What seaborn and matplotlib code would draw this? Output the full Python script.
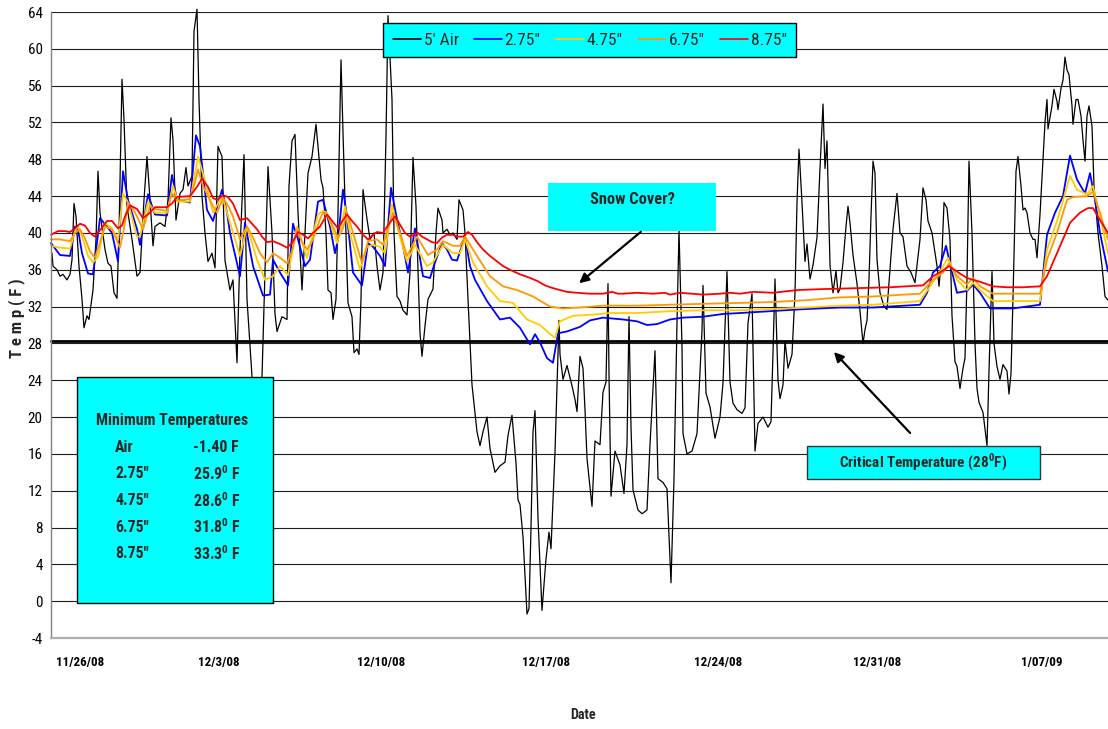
import matplotlib
matplotlib.use("Agg")
import matplotlib.pyplot as plt
from matplotlib import font_manager
from matplotlib.patches import Rectangle, FancyArrowPatch
from matplotlib.lines import Line2D
import seaborn as sns

# ---- hourly record index (hours since logger start) and temperatures (F) ----
AIR_HOUR = [1, 2, 6, 9, 12, 16, 19, 21, 23, 25, 28, 31, 33, 36, 38, 42, 45, 47, 49, 54,
            57, 60, 63, 66, 68, 71, 73, 76, 81, 86, 89, 93, 96, 99, 102, 104, 109, 114, 117, 120,
            122, 125, 129, 132, 135, 137, 141, 143, 146, 148, 151, 154, 157, 161, 164, 167, 171, 174, 179, 182,
            186, 189, 193, 196, 201, 205, 211, 217, 221, 224, 226, 231, 236, 238, 241, 244, 247, 251, 254, 257,
            261, 265, 267, 270, 272, 275, 277, 280, 282, 285, 287, 290, 292, 295, 297, 301, 303, 306, 308, 310,
            312, 316, 319, 323, 326, 329, 332, 335, 337, 341, 343, 346, 349, 352, 356, 359, 362, 365, 369, 371,
            374, 377, 382, 385, 387, 391, 392, 396, 399, 402, 406, 408, 412, 414, 417, 421, 426, 429, 432, 436,
            439, 444, 449, 454, 457, 461, 465, 467, 469, 472, 476, 478, 480, 482, 484, 487, 491, 495, 498, 500,
            504, 508, 509, 512, 516, 521, 524, 526, 529, 532, 534, 536, 541, 544, 549, 552, 555, 557, 558, 560,
            564, 569, 573, 576, 578, 580, 582, 587, 591, 596, 599, 604, 607, 612, 616, 620, 623, 626, 628, 631,
            632, 636, 641, 646, 651, 652, 655, 659, 664, 669, 672, 676, 679, 682, 686, 691, 694, 697, 701, 704,
            707, 712, 717, 720, 722, 724, 727, 729, 732, 734, 737, 741, 744, 746, 748, 751, 754, 756, 759, 762,
            766, 769, 772, 774, 776, 779, 782, 785, 787, 789, 792, 795, 797, 799, 802, 806, 809, 812, 814, 816,
            818, 820, 822, 824, 826, 829, 833, 836, 838, 842, 846, 849, 852, 856, 860, 864, 869, 872, 875, 877,
            881, 884, 886, 888, 891, 893, 896, 899, 901, 904, 906, 909, 912, 914, 916, 918, 921, 924, 926, 928,
            932, 934, 936, 938, 941, 943, 946, 949, 952, 956, 958, 960, 962, 965, 967, 970, 972, 974, 976, 979,
            982, 984, 986, 989, 992, 994, 996, 997, 1001, 1003, 1006, 1007, 1010, 1012, 1014, 1016, 1018, 1021, 1022, 1025,
            1027, 1030, 1032, 1034, 1036, 1038, 1041, 1043, 1047, 1051, 1054, 1057]
AIR_TEMP = [37.8, 36.4, 36.0, 35.3, 35.5, 34.9, 35.5, 37.1, 43.2, 41.8, 36.4, 32.8, 29.7, 31.0, 30.6, 33.8, 39.3, 46.7, 42.2, 38.2,
            36.7, 36.4, 33.5, 32.9, 40.0, 56.7, 52.3, 42.9, 39.3, 35.3, 35.7, 43.6, 48.3, 43.6, 38.6, 40.7, 41.1, 40.7, 43.6, 52.5,
            50.1, 41.4, 44.3, 44.7, 47.1, 45.1, 46.2, 61.9, 64.3, 54.5, 44.0, 40.0, 36.9, 37.8, 36.2, 49.4, 48.3, 37.0, 33.8, 34.9,
            25.9, 38.2, 48.5, 32.8, 24.4, 20.0, 24.4, 47.2, 40.0, 31.2, 29.3, 30.9, 30.6, 45.1, 50.0, 50.7, 42.2, 33.8, 40.0, 46.5,
            48.3, 51.8, 49.4, 45.8, 44.9, 40.0, 33.8, 33.5, 30.6, 32.8, 42.2, 58.8, 50.9, 40.0, 32.4, 30.9, 27.0, 27.4, 26.8, 32.8,
            44.7, 41.5, 39.3, 40.0, 36.4, 33.8, 35.7, 50.5, 63.6, 54.5, 40.0, 33.1, 32.6, 31.6, 31.1, 35.7, 48.2, 42.9, 29.1, 26.6,
            29.9, 32.8, 33.9, 40.0, 42.7, 41.4, 40.0, 40.4, 39.8, 40.0, 39.3, 43.6, 42.5, 40.0, 32.8, 23.5, 18.4, 16.9, 18.4, 20.0,
            16.6, 14.0, 14.7, 15.1, 18.0, 20.2, 15.0, 11.0, 10.5, 7.0, -1.4, -0.8, 8.0, 18.4, 20.7, 9.0, -1.0, 4.6, 7.5, 5.7,
            16.2, 30.5, 26.8, 24.1, 25.6, 23.4, 21.9, 20.6, 26.6, 25.3, 20.8, 15.5, 10.3, 17.4, 17.0, 22.7, 23.8, 34.5, 24.6, 11.4,
            16.3, 14.8, 11.7, 17.0, 30.9, 18.9, 12.1, 9.9, 9.5, 9.9, 17.0, 27.2, 13.3, 12.9, 12.2, 2.0, 13.3, 30.2, 40.3, 27.6,
            18.2, 16.0, 16.3, 18.2, 29.4, 34.3, 22.6, 21.1, 17.7, 20.0, 23.7, 35.8, 23.8, 21.5, 20.8, 20.4, 21.0, 30.2, 33.4, 16.3,
            19.3, 20.0, 18.9, 19.5, 27.0, 35.0, 24.0, 22.0, 23.5, 28.3, 25.3, 26.8, 33.5, 43.3, 49.1, 43.3, 36.9, 38.8, 35.0, 36.5,
            39.5, 47.0, 54.0, 47.0, 50.0, 36.5, 33.5, 35.9, 33.5, 33.9, 36.8, 40.7, 42.9, 41.1, 37.6, 34.5, 31.5, 28.0, 29.5, 30.5,
            35.0, 41.8, 47.8, 46.5, 37.1, 33.5, 32.0, 31.7, 34.6, 40.4, 44.3, 40.0, 39.6, 36.4, 35.7, 34.6, 39.3, 44.9, 43.6, 41.3,
            40.0, 37.8, 36.4, 34.2, 37.8, 43.3, 42.7, 39.3, 31.0, 26.0, 25.5, 23.1, 25.3, 26.4, 35.0, 47.8, 40.0, 28.0, 23.1, 21.6,
            20.5, 18.7, 16.9, 25.0, 35.8, 28.0, 25.5, 24.1, 25.7, 25.0, 22.5, 24.7, 33.0, 46.7, 48.3, 45.1, 42.5, 42.7, 42.2, 40.0,
            39.3, 39.3, 37.3, 42.0, 48.0, 52.0, 54.5, 51.3, 53.8, 55.6, 54.3, 53.4, 55.7, 56.6, 59.1, 57.7, 57.2, 53.8, 51.8, 54.5,
            54.5, 52.7, 50.1, 47.8, 52.7, 53.8, 51.6, 45.1, 40.0, 36.4, 33.1, 32.7]

D275_HOUR = [0, 9, 19, 24, 27, 31, 37, 42, 49, 56, 61, 67, 72, 77, 86, 89, 97, 104, 116, 121,
             126, 139, 145, 149, 156, 162, 171, 176, 179, 189, 194, 202, 212, 219, 222, 229, 237, 242, 247, 254,
             259, 267, 272, 279, 284, 287, 292, 296, 302, 311, 317, 322, 329, 334, 340, 346, 352, 357, 364, 372,
             379, 384, 391, 396, 401, 406, 411, 414, 419, 424, 436, 449, 459, 469, 479, 484, 489, 496, 502, 507,
             516, 529, 539, 552, 572, 586, 596, 606, 619, 632, 652, 672, 689, 749, 789, 822, 869, 876, 882, 889,
             895, 899, 906, 916, 922, 929, 939, 962, 989, 996, 1004, 1012, 1019, 1026, 1034, 1039, 1044, 1049, 1057]
D275_TEMP = [38.9, 37.6, 37.5, 40.7, 40.4, 37.8, 35.6, 35.5, 41.6, 40.7, 40.0, 36.9, 46.7, 43.6, 40.4, 38.7, 44.2, 42.0, 41.9, 46.3,
             43.6, 43.3, 50.6, 49.4, 42.5, 41.3, 44.7, 42.2, 40.0, 35.3, 41.1, 36.4, 33.2, 33.3, 37.1, 35.7, 34.3, 41.0, 39.3, 36.4,
             37.1, 43.4, 43.6, 40.7, 37.8, 39.3, 44.7, 41.8, 35.7, 34.3, 38.9, 38.5, 37.5, 36.4, 44.9, 41.5, 38.6, 35.7, 40.5, 35.3,
             35.1, 36.8, 38.9, 38.2, 37.1, 37.0, 38.6, 39.6, 36.4, 34.9, 32.6, 30.6, 30.8, 29.7, 27.9, 29.0, 28.1, 26.4, 25.9, 29.1,
             29.3, 29.8, 30.5, 30.8, 30.6, 30.4, 30.0, 30.1, 30.6, 30.8, 30.9, 31.2, 31.3, 31.7, 31.9, 31.9, 32.2, 33.5, 35.7, 36.4,
             38.6, 36.7, 33.5, 33.7, 34.4, 33.5, 31.8, 31.8, 32.2, 39.8, 42.2, 44.0, 48.4, 45.8, 44.3, 46.5, 43.6, 40.0, 35.8]

D475_HOUR = [0, 9, 19, 24, 27, 32, 37, 42, 47, 54, 61, 67, 72, 77, 86, 89, 97, 104, 116, 122,
             127, 139, 147, 154, 162, 171, 176, 189, 196, 206, 214, 222, 229, 237, 246, 256, 267, 272, 276, 286,
             289, 294, 299, 309, 316, 322, 329, 334, 341, 346, 356, 364, 376, 382, 392, 402, 409, 414, 422, 436,
             449, 462, 476, 489, 497, 504, 509, 522, 539, 559, 586, 619, 652, 689, 756, 789, 822, 869, 879, 889,
             897, 906, 916, 922, 929, 942, 989, 996, 1006, 1012, 1019, 1026, 1036, 1042, 1049, 1057]
D475_TEMP = [38.6, 38.4, 38.3, 40.2, 40.7, 39.3, 37.5, 36.8, 37.4, 41.1, 40.5, 39.2, 44.3, 43.3, 39.6, 39.6, 43.4, 42.2, 42.2, 45.1,
             43.4, 43.4, 48.3, 45.7, 42.2, 44.0, 42.2, 37.5, 40.7, 37.1, 34.9, 35.3, 36.4, 35.4, 40.7, 37.3, 42.0, 42.4, 42.2, 38.9,
             40.0, 42.9, 40.0, 36.0, 38.5, 38.7, 38.5, 37.8, 43.1, 40.7, 36.9, 38.7, 36.4, 36.8, 38.7, 37.8, 37.8, 39.3, 36.8, 34.2,
             32.6, 32.4, 30.6, 30.0, 29.2, 28.6, 30.4, 31.0, 31.1, 31.3, 31.3, 31.5, 31.6, 31.6, 31.9, 32.1, 32.2, 32.6, 34.2, 35.8,
             37.3, 34.9, 33.8, 34.6, 33.8, 32.6, 32.6, 38.2, 41.3, 43.5, 46.2, 44.7, 44.2, 45.1, 41.8, 37.8]

D675_HOUR = [0, 9, 19, 24, 29, 34, 39, 44, 49, 54, 61, 69, 73, 77, 82, 86, 92, 99, 104, 116,
             121, 126, 139, 144, 147, 152, 157, 162, 166, 172, 177, 182, 189, 196, 202, 209, 216, 222, 229, 236,
             241, 246, 251, 256, 262, 269, 272, 277, 287, 292, 296, 302, 311, 317, 326, 332, 342, 349, 356, 366,
             377, 386, 392, 402, 409, 414, 426, 439, 452, 466, 482, 499, 512, 529, 552, 586, 619, 652, 689, 722,
             756, 789, 822, 869, 882, 892, 898, 906, 916, 922, 929, 942, 989, 996, 1006, 1016, 1022, 1036, 1042, 1049,
             1057]
D675_TEMP = [39.3, 39.3, 39.1, 40.0, 40.4, 39.4, 38.0, 37.3, 39.0, 40.7, 40.4, 38.4, 40.5, 43.3, 42.6, 41.8, 40.4, 42.9, 42.6, 42.4,
             44.3, 43.5, 43.7, 45.5, 46.9, 45.1, 44.0, 42.9, 42.2, 43.8, 43.0, 41.8, 39.3, 40.7, 39.5, 37.8, 36.8, 37.8, 37.3, 36.7,
             38.0, 40.4, 39.0, 38.2, 39.3, 41.5, 42.2, 41.8, 39.5, 40.5, 42.2, 40.0, 36.7, 39.1, 39.3, 38.7, 42.2, 40.0, 37.5, 39.6,
             37.6, 38.2, 39.1, 38.6, 38.6, 39.6, 37.5, 35.3, 34.2, 33.8, 33.1, 32.0, 31.8, 31.9, 32.1, 32.1, 32.2, 32.3, 32.4, 32.5,
             32.7, 33.0, 33.1, 33.4, 34.9, 35.7, 36.7, 35.3, 34.4, 35.1, 34.2, 33.4, 33.4, 37.1, 40.0, 43.6, 43.9, 44.0, 44.5, 42.2,
             39.3]

D875_HOUR = [0, 7, 14, 19, 24, 29, 34, 39, 44, 49, 56, 61, 67, 71, 74, 79, 86, 92, 99, 104,
             116, 121, 126, 139, 146, 151, 157, 162, 166, 172, 177, 182, 189, 196, 201, 206, 211, 216, 222, 229,
             236, 241, 247, 252, 257, 262, 269, 276, 282, 287, 292, 296, 301, 306, 312, 317, 322, 326, 332, 338,
             344, 349, 354, 359, 367, 371, 376, 381, 386, 391, 396, 402, 406, 412, 417, 421, 426, 432, 439, 446,
             452, 459, 469, 477, 486, 494, 502, 509, 516, 526, 539, 552, 561, 567, 572, 586, 602, 614, 619, 629,
             652, 669, 679, 689, 702, 722, 747, 772, 806, 839, 872, 882, 892, 898, 906, 916, 929, 942, 956, 972,
             989, 996, 1006, 1019, 1029, 1037, 1042, 1049, 1057]
D875_TEMP = [39.8, 40.2, 40.2, 40.1, 40.5, 41.0, 40.8, 40.0, 39.6, 40.3, 41.3, 41.3, 40.5, 40.8, 41.8, 43.0, 42.6, 41.6, 42.2, 42.8,
             42.8, 43.2, 43.9, 44.0, 45.0, 45.9, 45.0, 43.8, 43.6, 44.1, 43.9, 43.2, 41.4, 41.6, 41.0, 40.4, 39.6, 39.0, 39.1, 38.8,
             38.4, 38.9, 40.1, 39.8, 39.4, 40.0, 40.7, 42.0, 41.2, 40.5, 41.4, 42.0, 41.3, 40.7, 39.8, 39.3, 39.8, 40.1, 40.0, 41.0,
             41.8, 40.9, 40.0, 39.6, 40.0, 39.6, 39.3, 39.0, 38.9, 39.5, 39.8, 39.8, 39.6, 39.6, 40.1, 39.8, 39.0, 38.2, 37.5, 36.9,
             36.4, 36.0, 35.5, 35.2, 34.8, 34.3, 34.0, 33.8, 33.6, 33.5, 33.4, 33.4, 33.6, 33.4, 33.4, 33.5, 33.4, 33.5, 33.3, 33.5,
             33.3, 33.4, 33.5, 33.4, 33.6, 33.5, 33.8, 33.9, 34.0, 34.1, 34.3, 35.3, 35.9, 36.4, 35.8, 35.1, 34.7, 34.2, 34.1, 34.1,
             34.2, 35.3, 37.8, 41.1, 42.2, 42.7, 42.7, 41.4, 40.0]

SERIES_LABELS = ["5' Air", '2.75"', '4.75"', '6.75"', '8.75"']
SERIES_COLORS = ["black", "#0000FF", "#FFCC00", "#FF9900", "#FF0000"]

DATE_TICK_HOURS = [29.5, 168, 330, 495, 667, 826, 991]
DATE_TICK_LABELS = ["11/26/08", "12/3/08", "12/10/08", "12/17/08", "12/24/08", "12/31/08", "1/07/09"]

CRITICAL_TEMP = 28
MIN_TABLE_NAMES = ["Air", '2.75"', '4.75"', '6.75"', '8.75"']
MIN_TABLE_VALUES = ["-1.40 F", "25.9$^{\\mathbf{0}}$ F", "28.6$^{\\mathbf{0}}$ F",
                    "31.8$^{\\mathbf{0}}$ F", "33.3$^{\\mathbf{0}}$ F"]

# ---- fonts: prefer a narrow sans face when one is installed ----
sns.set_theme(style="white")
ttf = font_manager.fontManager.ttflist
names = {f.name for f in ttf}
FAMILY, STRETCH = "Liberation Sans", "normal"
for cand in ["Liberation Sans Narrow", "Arial Narrow", "Roboto Condensed",
             "Noto Sans Condensed", "Open Sans Condensed", "DejaVu Sans Condensed"]:
    if cand in names:
        FAMILY = cand
        break
else:
    for fam in ["Noto Sans", "DejaVu Sans", "Open Sans", "Roboto"]:
        hits = [f.stretch for f in ttf if f.name == fam
                and str(f.stretch) in ("condensed", "semi-condensed", "extra-condensed")]
        if hits:
            FAMILY, STRETCH = fam, hits[0]
            break

plt.rcParams["font.family"] = [FAMILY, "DejaVu Sans"]
plt.rcParams["font.stretch"] = STRETCH
plt.rcParams["axes.unicode_minus"] = False
plt.rcParams["mathtext.fontset"] = "custom"
plt.rcParams["mathtext.rm"] = FAMILY
plt.rcParams["mathtext.bf"] = FAMILY + ":bold"

W, H = 1108, 729
fig = plt.figure(figsize=(W / 100, H / 100), dpi=100)
fig.patch.set_facecolor("white")
ax = fig.add_axes([51 / W, 1 - 638 / H, 1057 / W, 626 / H])
ax.set_facecolor("white")
renderer = fig.canvas.get_renderer()


def fp(x, y):
    """pixel position (from top-left) -> figure fraction"""
    return x / W, 1 - y / H


def size_for(text, width_px, weight="normal", base=14.0, cap=None):
    """font size (pt) at which `text` is about width_px wide"""
    t = fig.text(0, 0, text, fontsize=base, fontweight=weight)
    w = t.get_window_extent(renderer).width
    t.remove()
    size = base * width_px / w
    return min(size, cap) if cap else size


# horizontal grid and the critical-temperature reference line
ax.set_ylim(-4, 64)
ax.set_xlim(0, 1057)
ax.set_yticks(range(-4, 65, 4))
ax.yaxis.grid(True, color="#1e1e1e", lw=0.8, zorder=0)
ax.xaxis.grid(False)
ax.axhline(CRITICAL_TEMP + 0.25, color="black", lw=2.0, zorder=1)

series = [(AIR_HOUR, AIR_TEMP, 0.9), (D275_HOUR, D275_TEMP, 1.3), (D475_HOUR, D475_TEMP, 1.3),
          (D675_HOUR, D675_TEMP, 1.3), (D875_HOUR, D875_TEMP, 1.3)]
for (hours, temps, lw), color in zip(series, SERIES_COLORS):
    sns.lineplot(x=hours, y=temps, ax=ax, color=color, lw=lw,
                 estimator=None, sort=False, zorder=2, legend=False)
for ln in ax.lines:
    ln.set_clip_on(False)

# axes styling
for side in ("top", "right"):
    ax.spines[side].set_visible(False)
ax.spines["left"].set_color("#808080")
ax.spines["left"].set_linewidth(1.0)
ax.spines["bottom"].set_color("#b0b0b0")
ax.spines["bottom"].set_linewidth(1.6)
ax.tick_params(axis="y", length=0, pad=6, labelsize=size_for("64", 15, cap=12.5),
               labelcolor="black")
ax.set_xticks(DATE_TICK_HOURS)
ax.set_xticklabels(DATE_TICK_LABELS, fontweight="bold",
                   fontsize=size_for("11/26/08", 48, "bold", cap=11.5))
ax.tick_params(axis="x", length=0, pad=13, labelcolor="black")
ax.set_xlabel("")
ax.set_ylabel("")

fig.text(*fp(583, 715), "Date", ha="center", va="center",
         fontsize=size_for("Date", 26, "bold", cap=11.5), fontweight="bold")
fig.text(*fp(17, 318), "T e m p ( F )", ha="center", va="center", rotation=90,
         fontsize=size_for("T e m p ( F )", 98, "bold", cap=12), fontweight="bold")

# legend: one short line sample per series, in series colour
leg_fs = size_for("5' Air", 35, cap=15)
em = leg_fs * 100 / 72
handles = [Line2D([], [], color=c, lw=1.2) for c in SERIES_COLORS]
leg = ax.legend(handles, SERIES_LABELS, loc="upper left",
                bbox_to_anchor=((383 - 51) / 1057, (638 - 23) / 626),
                borderaxespad=0, ncol=5, frameon=True, fancybox=False, shadow=False,
                facecolor="#00FFFF", edgecolor="black", fontsize=leg_fs,
                handlelength=28 / em, handletextpad=3 / em, columnspacing=15 / em,
                borderpad=0.55)
leg.get_frame().set_linewidth(1.0)
leg.get_frame().set_alpha(1)
leg.set_zorder(6)

# minimum temperature table
x0, y0 = fp(77, 603)
x1, y1 = fp(273, 377)
fig.add_artist(Rectangle((x0, y0), x1 - x0, y1 - y0, transform=fig.transFigure,
                         facecolor="#00FFFF", edgecolor="black", lw=1.0, zorder=5))
tab_fs = size_for("Minimum Temperatures", 153, "bold", cap=12.5)
fig.text(*fp(172, 420), "Minimum Temperatures", ha="center", va="center",
         fontsize=tab_fs, fontweight="bold", zorder=6)
for i, (name, val) in enumerate(zip(MIN_TABLE_NAMES, MIN_TABLE_VALUES)):
    yy = 447 + i * 26.7
    fig.text(*fp(115, yy), name, ha="left", va="center", fontsize=tab_fs,
             fontweight="bold", zorder=6)
    fig.text(*fp(193, yy), val, ha="left", va="center", fontsize=tab_fs,
             fontweight="bold", zorder=6)

# snow cover note
x0, y0 = fp(548, 231)
x1, y1 = fp(716, 183)
fig.add_artist(Rectangle((x0, y0), x1 - x0, y1 - y0, transform=fig.transFigure,
                         facecolor="#00FFFF", edgecolor="none", zorder=5))
fig.text(*fp(632, 199), "Snow Cover?", ha="center", va="center",
         fontsize=size_for("Snow Cover?", 85, "bold", cap=12.5), fontweight="bold", zorder=6)
fig.add_artist(FancyArrowPatch(fp(643, 230), fp(577, 285), transform=fig.transFigure,
                               arrowstyle="-|>", mutation_scale=14, color="black",
                               lw=1.6, zorder=6))

# critical temperature note
x0, y0 = fp(807, 479)
x1, y1 = fp(1040, 446)
fig.add_artist(Rectangle((x0, y0), x1 - x0, y1 - y0, transform=fig.transFigure,
                         facecolor="#00FFFF", edgecolor="#333333", lw=1.0, zorder=5))
crit = "Critical Temperature (28$^{\\mathbf{0}}$F)"
fig.text(*fp(923, 462), crit, ha="center", va="center",
         fontsize=size_for(crit, 168, "bold", cap=12.5), fontweight="bold", zorder=6)
fig.add_artist(FancyArrowPatch(fp(912, 435), fp(832, 350), transform=fig.transFigure,
                               arrowstyle="-|>", mutation_scale=14, color="black",
                               lw=1.6, zorder=6))

fig.savefig("out.png", dpi=100, facecolor="white")
